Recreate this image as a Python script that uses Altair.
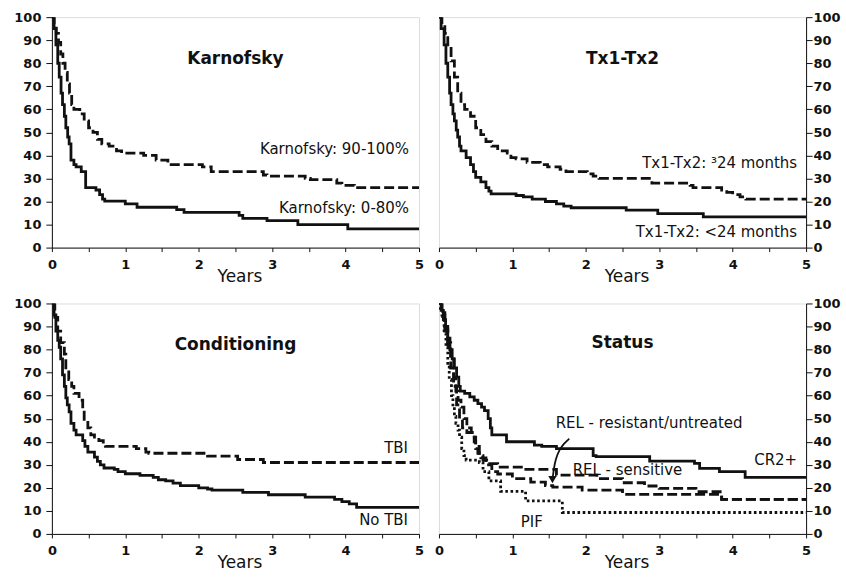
import altair as alt
import pandas as pd

# ---------------- data (years, % surviving) ----------------
karn_hi_t = [0, 0.03, 0.06, 0.09, 0.12, 0.15, 0.18, 0.21, 0.24, 0.27, 0.30, 0.38, 0.44, 0.50, 0.56, 0.62, 0.68, 0.78, 0.88, 0.95, 1.25, 1.42, 1.58, 2.05, 2.17, 2.88, 2.93, 3.45, 3.52, 3.88, 3.95, 4.12, 5.0]
karn_hi_s = [100, 97, 93, 89, 84, 80, 76, 71, 67, 62, 60, 58, 55, 52, 50, 47, 45, 44, 42, 41, 40, 38, 36, 35, 33, 31.5, 31, 30, 29.5, 28, 27, 26, 26]
karn_lo_t = [0, 0.03, 0.055, 0.08, 0.10, 0.125, 0.145, 0.17, 0.19, 0.215, 0.235, 0.26, 0.30, 0.33, 0.40, 0.46, 0.60, 0.65, 0.69, 0.72, 1.00, 1.16, 1.70, 1.80, 2.55, 2.60, 2.93, 3.35, 4.03, 5.0]
karn_lo_s = [100, 95, 88, 80, 74, 67, 62, 57, 52, 48, 45, 38, 36, 35, 33, 26, 25, 23, 21, 20.2, 19, 17.5, 16.5, 15.3, 14, 12.7, 11.7, 10, 8.1, 8.1]

tx_hi_t = [0, 0.04, 0.08, 0.12, 0.165, 0.21, 0.255, 0.30, 0.35, 0.43, 0.50, 0.57, 0.64, 0.72, 0.80, 0.93, 0.98, 1.05, 1.20, 1.38, 1.48, 1.65, 1.73, 2.02, 2.10, 2.18, 2.90, 3.42, 3.46, 3.85, 3.92, 4.00, 4.10, 4.18, 5.0]
tx_hi_s = [100, 97, 93, 88, 81, 74, 67, 62, 60, 57, 52, 49, 46, 44, 42, 41, 39, 38.5, 37, 36, 35, 34, 33, 32, 31, 30, 28, 27, 26, 25, 24, 23, 22, 21, 21]
tx_lo_t = [0, 0.03, 0.07, 0.095, 0.12, 0.145, 0.165, 0.19, 0.21, 0.235, 0.255, 0.28, 0.30, 0.37, 0.43, 0.47, 0.50, 0.57, 0.64, 0.68, 0.71, 1.05, 1.15, 1.27, 1.45, 1.60, 1.70, 1.80, 2.55, 2.98, 3.60, 5.0]
tx_lo_s = [100, 95, 88, 80, 74, 67, 62, 58, 55, 51, 48, 44, 42, 39, 36, 33, 30.5, 28.5, 26, 24.5, 23.3, 22.6, 22, 21, 20, 19, 18, 17.3, 16.3, 14.7, 13.3, 13.3]

tbi_t = [0, 0.04, 0.08, 0.12, 0.17, 0.19, 0.23, 0.27, 0.30, 0.37, 0.42, 0.44, 0.49, 0.53, 0.58, 0.64, 0.70, 0.73, 1.15, 1.28, 1.32, 2.12, 2.53, 2.88, 5.0]
tbi_s = [100, 94, 88, 83, 78, 71, 67, 64, 61, 58, 54, 49, 46, 43, 42, 40.5, 39, 38, 37, 35.5, 35, 33.8, 32.3, 31, 31]
notbi_t = [0, 0.03, 0.055, 0.08, 0.10, 0.12, 0.145, 0.17, 0.19, 0.21, 0.235, 0.26, 0.30, 0.33, 0.42, 0.45, 0.49, 0.58, 0.62, 0.66, 0.71, 0.85, 0.90, 1.00, 1.20, 1.38, 1.45, 1.55, 1.65, 1.75, 2.00, 2.12, 2.18, 2.60, 2.95, 3.45, 3.85, 3.95, 4.05, 4.15, 5.0]
notbi_s = [100, 95, 88, 84, 81, 76, 69, 64, 59, 56, 53, 48, 45, 43, 40.5, 38, 35.5, 33.3, 31.5, 30, 28.6, 28, 27, 26.1, 25.4, 24.5, 23.5, 23, 22, 21, 20, 19.5, 19, 18, 17, 16, 15, 14, 13, 11.5, 11.5]

cr2_t = [0, 0.03, 0.06, 0.09, 0.12, 0.15, 0.18, 0.21, 0.24, 0.27, 0.29, 0.35, 0.42, 0.48, 0.53, 0.58, 0.62, 0.67, 0.70, 0.72, 0.92, 1.30, 1.40, 1.60, 2.10, 2.14, 2.87, 3.48, 3.55, 3.82, 4.17, 5.0]
cr2_s = [100, 97, 93, 89, 85, 80, 76, 72, 68, 64, 62, 61, 59.5, 58, 56.5, 55, 53.5, 50, 46, 43, 40, 38.5, 38, 37, 34, 33.5, 31.6, 30.6, 28.4, 27, 24.5, 24.5]
sens_t = [0, 0.04, 0.08, 0.12, 0.16, 0.20, 0.23, 0.26, 0.30, 0.34, 0.38, 0.44, 0.48, 0.50, 0.53, 0.57, 0.64, 0.80, 1.15, 1.60, 2.15, 2.50, 2.80, 3.00, 3.50, 3.85, 5.0]
sens_s = [100, 96, 90, 83, 76, 68, 62, 58, 55, 50, 46, 44, 40, 37, 35, 33, 30.5, 29, 28, 25.5, 24, 22.2, 20.8, 19.8, 18.3, 15, 15]
resis_t = [0, 0.04, 0.08, 0.12, 0.16, 0.20, 0.24, 0.28, 0.32, 0.38, 0.45, 0.50, 0.55, 0.60, 0.65, 0.72, 0.80, 1.00, 1.25, 1.45, 1.55, 1.95, 2.50, 3.85, 5.0]
resis_s = [100, 95, 88, 80, 72, 64, 56, 50, 46, 44, 42, 38, 34, 32, 30, 27, 26, 24, 22.5, 21, 20.3, 19, 17.2, 15, 15]
pif_t = [0, 0.02, 0.05, 0.07, 0.095, 0.12, 0.14, 0.17, 0.19, 0.21, 0.23, 0.26, 0.28, 0.31, 0.34, 0.37, 0.55, 0.60, 0.68, 0.84, 1.18, 1.68, 5.0]
pif_s = [100, 97, 93, 87, 81, 73, 67, 60, 55, 51, 48, 45, 42, 37, 34, 32, 31, 27, 23, 18.5, 14.3, 9.3, 9.3]

# annotation arrow in the Status panel (years, %)
arrow_t = [1.774, 1.70, 1.638, 1.59, 1.565, 1.552]
arrow_s = [41.3, 39.2, 36.4, 32.5, 28.5, 25.0]
arrow_head_t = [1.546]
arrow_head_s = [23.6]

x_ticks = [0, 0.5, 1, 1.5, 2, 2.5, 3, 3.5, 4, 4.5, 5]
y_ticks = [0, 10, 20, 30, 40, 50, 60, 70, 80, 90, 100]

# ---------------- styling helpers ----------------
FONT = "DejaVu Sans"
W, H = 368, 231
INK = "#111111"


def x_enc():
    return alt.X(
        "t:Q",
        scale=alt.Scale(domain=[0, 5], nice=False, zero=False),
        axis=alt.Axis(
            values=x_ticks, labelExpr="datum.value % 1 === 0 ? format(datum.value, 'd') : ''",
            grid=False, domainColor=INK, tickColor=INK, tickSize=4,
            labelFont=FONT, labelFontSize=13, labelFontWeight="bold", labelColor=INK,
            labelPadding=7, labelFlush=False, labelOverlap=False,
            title="Years", titleFont=FONT, titleFontSize=17, titleFontWeight="normal",
            titleColor=INK, titleBaseline="alphabetic", titleY=34, titleX=188,
        ),
    )


def y_enc(orient):
    return alt.Y(
        "s:Q",
        scale=alt.Scale(domain=[0, 100], nice=False),
        axis=alt.Axis(
            orient=orient, values=y_ticks, format="d", grid=False,
            domainColor=INK, tickColor=INK, tickSize=6,
            labelFont=FONT, labelFontSize=13, labelFontWeight="bold", labelColor=INK,
            labelPadding=5 if orient == "left" else 1, labelFlush=False, labelOverlap=False,
            title=None,
        ),
    )


def curve(t, s, style, orient):
    df = pd.DataFrame({"t": t, "s": s})
    kw = dict(interpolate="step-after", color=INK, strokeWidth=2.8, clip=True)
    if style == "dash":
        kw["strokeDash"] = [10, 4]
    elif style == "dot":
        kw["strokeDash"] = [2.6, 2.6]
    return alt.Chart(df).mark_line(**kw).encode(x=x_enc(), y=y_enc(orient))


def label(txt, x, y, size=15, weight="normal", align="right"):
    return alt.Chart(pd.DataFrame({"label": [txt]})).mark_text(
        font=FONT, fontSize=size, fontWeight=weight, align=align,
        baseline="alphabetic", color=INK,
    ).encode(x=alt.value(x), y=alt.value(y), text="label:N")


def title(txt, y=47):
    return label(txt, W / 2, y, size=17, weight="bold", align="center")


p1 = alt.layer(
    curve(karn_lo_t, karn_lo_s, "solid", "left"),
    curve(karn_hi_t, karn_hi_s, "dash", "left"),
    title("Karnofsky"),
    label("Karnofsky: 90-100%", 358, 137),
    label("Karnofsky: 0-80%", 358, 196),
).properties(width=W, height=H)

p2 = alt.layer(
    curve(tx_lo_t, tx_lo_s, "solid", "right"),
    curve(tx_hi_t, tx_hi_s, "dash", "right"),
    title("Tx1-Tx2"),
    label("Tx1-Tx2: ³24 months", 359, 151),
    label("Tx1-Tx2: <24 months", 359, 220),
).properties(width=W, height=H)

p3 = alt.layer(
    curve(notbi_t, notbi_s, "solid", "left"),
    curve(tbi_t, tbi_s, "dash", "left"),
    title("Conditioning"),
    label("TBI", 357, 150),
    label("No TBI", 357, 222),
).properties(width=W, height=H)

arrow_line = alt.Chart(pd.DataFrame({"t": arrow_t, "s": arrow_s})).mark_line(
    interpolate="basis", color=INK, strokeWidth=1.8
).encode(x=x_enc(), y=y_enc("right"))
arrow_head = alt.Chart(pd.DataFrame({"t": arrow_head_t, "s": arrow_head_s})).mark_point(
    shape="triangle-down", filled=True, color=INK, size=70, opacity=1
).encode(x=x_enc(), y=y_enc("right"))

p4 = alt.layer(
    curve(cr2_t, cr2_s, "solid", "right"),
    curve(sens_t, sens_s, "dash", "right"),
    curve(resis_t, resis_s, "dash", "right"),
    curve(pif_t, pif_s, "dot", "right"),
    arrow_line,
    arrow_head,
    title("Status", 45),
    label("REL - resistant/untreated", 117, 125, align="left"),
    label("REL - sensitive", 134, 172, align="left"),
    label("CR2+", 359, 162),
    label("PIF", 93, 224, align="center"),
).properties(width=W, height=H)

chart = alt.concat(
    p1, p2, p3, p4, columns=2, spacing={"row": 56, "column": 20}, bounds="flush"
).properties(
    padding={"left": 13, "top": 9.5, "right": 5, "bottom": 5}
).configure_view(stroke=INK, strokeWidth=1).configure(background="white")

chart.save("out.html", embed_options={"renderer": "svg", "actions": False})
